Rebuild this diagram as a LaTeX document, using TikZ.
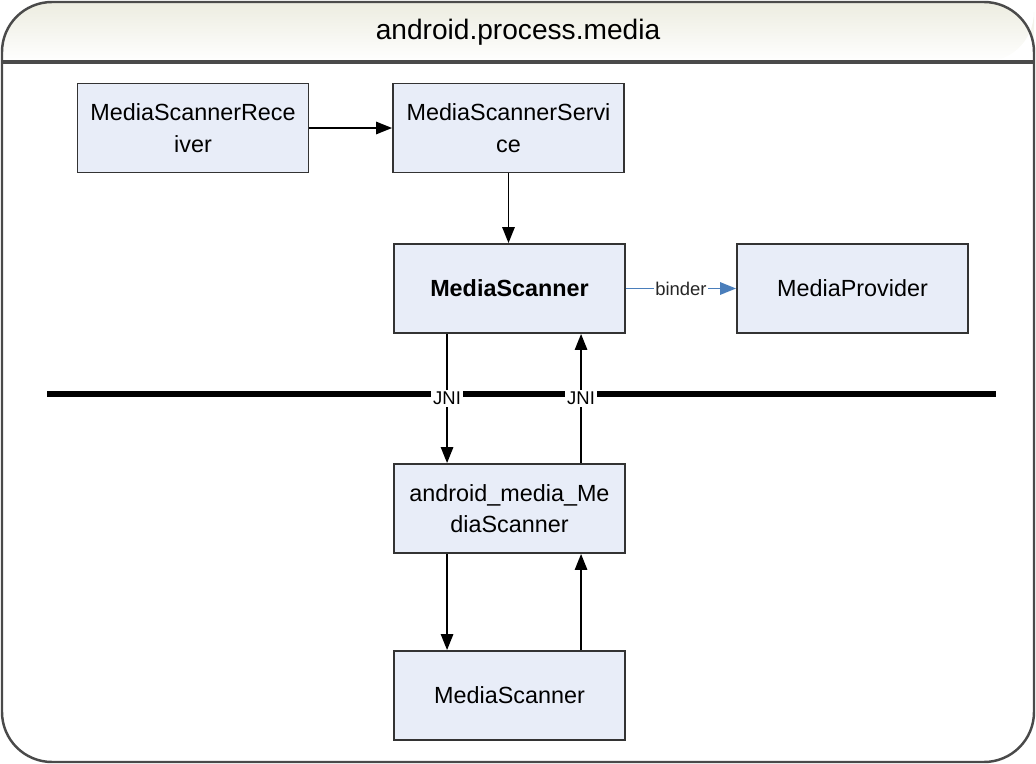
\documentclass[tikz,border=0pt]{standalone}
\usepackage{fontspec}
\setmainfont{Liberation Sans}
\usetikzlibrary{arrows.meta,calc}
\definecolor{boxfill}{HTML}{E8EDF8}
\definecolor{frameclr}{HTML}{4A4A4A}
\definecolor{binderblue}{HTML}{4A7EBB}
\definecolor{headtop}{HTML}{ECECE0}
\tikzset{
  box/.style={draw=black!80, line width=1.1pt, fill=boxfill, minimum width=4.62cm, minimum height=1.78cm,
    align=center, inner sep=2pt, font=\fontsize{13.3}{18}\selectfont},
  arr/.style={line width=0.9pt, -{Triangle[length=9pt,width=7pt]}},
  lbl/.style={fill=white, inner sep=1pt, font=\fontsize{10.5}{12}\selectfont},
}
\begin{document}
\begin{tikzpicture}[x=0.02cm,y=-0.02cm]
\useasboundingbox (0,0) rectangle (1036,764);
% header shading
\shade[top color=headtop, bottom color=white, rounded corners=1cm]
  (2,62) -- (2,2) -- (1034,2) -- (1034,62) [sharp corners] -- cycle;
% frame
\draw[frameclr, line width=1.4pt, rounded corners=1cm]
  (2,762) -- (2,2) -- (1034,2) -- (1034,762) -- cycle;
\draw[frameclr, line width=1.8pt] (2,62) -- (1034,62);
\node[font=\fontsize{16}{19}\selectfont] (title) at (518,32) {android.process.media};

% boxes
\node[box] (rec) at (193,128) {MediaScannerRece\\iver};
\node[box] (svc) at (508.5,128) {MediaScannerServi\\ce};
\node[box, font=\fontsize{13.3}{18}\selectfont\bfseries] (ms) at (509.5,288.5) {MediaScanner};
\node[box] (mp) at (852.5,288.5) {MediaProvider};
\node[box] (ams) at (509.5,508.5) {android\_media\_Me\\diaScanner};
\node[box] (ms2) at (509.5,695.5) {MediaScanner};

% separator line
\coordinate (sepL) at (47,394);
\coordinate (sepR) at (996,394);
\draw[line width=2.9pt] (sepL) -- (sepR);

% connectors
\draw[arr] (rec) -- (svc);
\draw[arr] (svc.south) -- (svc.south |- ms.north);
\draw[binderblue, line width=0.9pt, -{Triangle[length=9pt,width=7pt]}] (ms.east) -- node[lbl, text=black!85] {binder} (mp.west);
\draw[arr] ($(ms.south west)+(54,0)$) -- node[lbl] {JNI} ($(ams.north west)+(54,0)$);
\draw[arr] ($(ams.north west)+(188,0)$) -- node[lbl] {JNI} ($(ms.south west)+(188,0)$);
\draw[arr] ($(ams.south west)+(54,0)$) -- ($(ms2.north west)+(54,0)$);
\draw[arr] ($(ms2.north west)+(188,0)$) -- ($(ams.south west)+(188,0)$);
\end{tikzpicture}
\end{document}
